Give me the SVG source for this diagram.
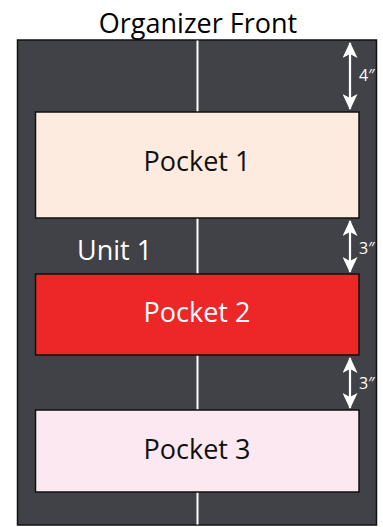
<svg xmlns="http://www.w3.org/2000/svg" width="383" height="527" viewBox="0 0 383 527">
  <style>
    .title { font-family: "Open Sans", "Liberation Sans", sans-serif; font-size: 27px; fill: #000; }
    .plabel { font-family: "Open Sans", "Liberation Sans", sans-serif; font-size: 27px; text-anchor: middle; }
    .unit { font-family: "Open Sans", "Liberation Sans", sans-serif; font-size: 27px; fill: #fff; }
    .dim { font-family: "Open Sans", "Liberation Sans", sans-serif; font-size: 16px; fill: #fff; }
    .pocket { stroke: #111; stroke-width: 1.5; }
    .arrow { stroke: #fff; stroke-width: 2.2; fill: none; }
    .head { fill: #fff; }
  </style>
  <defs>
    <marker id="ah" viewBox="0 0 16 15" refX="15" refY="7.5" markerWidth="16" markerHeight="15" markerUnits="userSpaceOnUse" orient="auto-start-reverse">
      <path d="M16,7.5 L0,0 L4,7.5 L0,15 Z" class="head"/>
    </marker>
  </defs>
  <rect width="383" height="527" fill="#ffffff"/>
  <text class="title" x="198" y="33" text-anchor="middle">Organizer Front</text>
  <g id="board">
    <rect x="17.5" y="40" width="359" height="485" fill="#414247" stroke="#111" stroke-width="1.5"/>
    <line x1="197.5" y1="40.5" x2="197.5" y2="524.5" stroke="#fff" stroke-width="2"/>
  </g>
  <g id="pocket1">
    <rect class="pocket" x="35.5" y="112" width="323.5" height="106" fill="#fdebdf"/>
    <text class="plabel" x="197" y="171" fill="#111">Pocket 1</text>
  </g>
  <g id="unit1">
    <text class="unit" x="77" y="260">Unit 1</text>
  </g>
  <g id="pocket2">
    <rect class="pocket" x="35.5" y="274" width="323.5" height="81" fill="#ed2628"/>
    <text class="plabel" x="197" y="322" fill="#fff">Pocket 2</text>
  </g>
  <g id="pocket3">
    <rect class="pocket" x="35.5" y="410" width="323.5" height="82" fill="#fbe8f1"/>
    <text class="plabel" x="197" y="459" fill="#111">Pocket 3</text>
  </g>
  <g id="connectors">
    <line class="arrow" x1="350" y1="43" x2="350" y2="109" marker-start="url(#ah)" marker-end="url(#ah)"/>
    <line class="arrow" x1="350" y1="221" x2="350" y2="272" marker-start="url(#ah)" marker-end="url(#ah)"/>
    <line class="arrow" x1="350" y1="358" x2="350" y2="408" marker-start="url(#ah)" marker-end="url(#ah)"/>
  </g>
  <g id="dims">
    <text class="dim" x="359" y="81">4″</text>
    <text class="dim" x="359" y="254">3″</text>
    <text class="dim" x="359" y="389">3″</text>
  </g>
</svg>
